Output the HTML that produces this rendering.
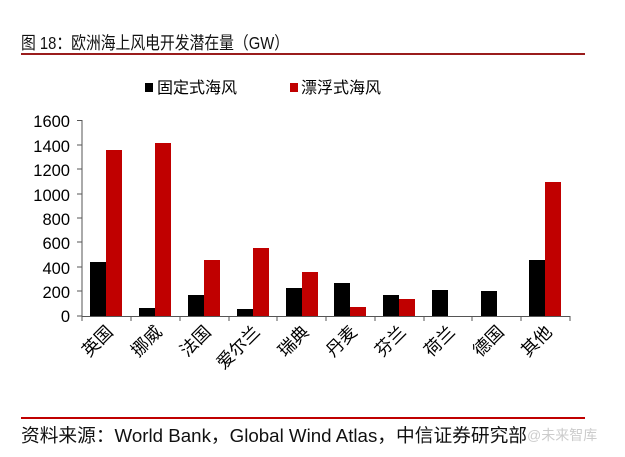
<!DOCTYPE html>
<html><head><meta charset="utf-8"><style>
body{margin:0;background:#fff;}
svg{display:block;font-family:"Liberation Sans","Noto Sans CJK SC",sans-serif;}
</style></head><body>
<svg width="625" height="457" viewBox="0 0 625 457" xmlns="http://www.w3.org/2000/svg">
<text x="21" y="49" font-size="17.5" fill="#111" textLength="268" lengthAdjust="spacingAndGlyphs">图 18：欧洲海上风电开发潜在量（GW）</text>
<rect x="21" y="53" width="564" height="2" fill="#9a1c1c"/>
<rect x="145" y="83" width="8" height="9" fill="#000"/>
<text x="157" y="93" font-size="16" fill="#000">固定式海风</text>
<rect x="290" y="83" width="8" height="9" fill="#c00000"/>
<text x="301" y="93" font-size="16" fill="#000">漂浮式海风</text>
<g font-size="16.5" fill="#000" text-anchor="end">
<text x="70" y="127">1600</text><text x="70" y="152">1400</text><text x="70" y="176">1200</text>
<text x="70" y="201">1000</text><text x="70" y="225">800</text><text x="70" y="249">600</text>
<text x="70" y="274">400</text><text x="70" y="298">200</text><text x="70" y="322">0</text>
</g>
<g fill="#000">
<rect x="90" y="262" width="16" height="54"/>
<rect x="139" y="308" width="16" height="8"/>
<rect x="188" y="295" width="16" height="21"/>
<rect x="237" y="309" width="16" height="7"/>
<rect x="286" y="288" width="16" height="28"/>
<rect x="334" y="283" width="16" height="33"/>
<rect x="383" y="295" width="16" height="21"/>
<rect x="432" y="290" width="16" height="26"/>
<rect x="481" y="291" width="16" height="25"/>
<rect x="529" y="260" width="16" height="56"/>
</g>
<g fill="#c00000">
<rect x="106" y="150" width="16" height="166"/>
<rect x="155" y="143" width="16" height="173"/>
<rect x="204" y="260" width="16" height="56"/>
<rect x="253" y="248" width="16" height="68"/>
<rect x="302" y="272" width="16" height="44"/>
<rect x="350" y="307" width="16" height="9"/>
<rect x="399" y="299" width="16" height="17"/>
<rect x="545" y="182" width="16" height="134"/>
</g>
<g stroke="#555" stroke-width="1" fill="none">
<line x1="82" y1="120" x2="82" y2="316.5"/>
<line x1="82" y1="316.5" x2="570" y2="316.5"/>
<path d="M77 120.5H82M77 145H82M77 169H82M77 194H82M77 218H82M77 242H82M77 267H82M77 291H82M77 316H82"/>
<path d="M82 316V321M131 316V321M180 316V321M229 316V321M277 316V321M326 316V321M375 316V321M424 316V321M472 316V321M521 316V321M570 316V321"/>
</g>
<g font-size="17.5" fill="#000" text-anchor="end">
<text transform="translate(114,333) rotate(-45)">英国</text>
<text transform="translate(163,333) rotate(-45)">挪威</text>
<text transform="translate(212,333) rotate(-45)">法国</text>
<text transform="translate(261,333) rotate(-45)">爱尔兰</text>
<text transform="translate(310,333) rotate(-45)">瑞典</text>
<text transform="translate(358,333) rotate(-45)">丹麦</text>
<text transform="translate(407,333) rotate(-45)">芬兰</text>
<text transform="translate(456,333) rotate(-45)">荷兰</text>
<text transform="translate(505,333) rotate(-45)">德国</text>
<text transform="translate(553,333) rotate(-45)">其他</text>
</g>
<rect x="21" y="417" width="564" height="2" fill="#c00000"/>
<text x="21" y="442" font-size="18.5" fill="#111" textLength="506" lengthAdjust="spacingAndGlyphs">资料来源：World Bank，Global Wind Atlas，中信证券研究部</text>
<text x="527" y="440" font-size="14" fill="#ccc">@未来智库</text>
</svg>
</body></html>
